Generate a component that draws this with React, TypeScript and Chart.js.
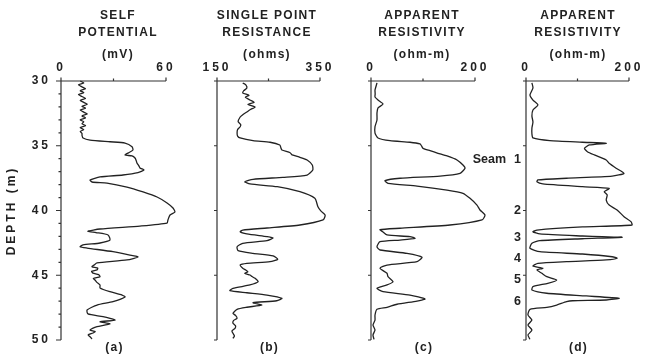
import React, { useEffect, useRef } from 'react';
import { Chart, registerables } from 'chart.js';
Chart.register(...registerables);

const FONT = '"Liberation Sans", Arial, Helvetica, sans-serif';
const INK = '#222';

// ---- data -------------------------------------------------------------
// (a) Self potential (mV)
const spDepth = [30.0,30.15,30.3,30.45,30.6,30.75,30.9,31.05,31.2,31.35,31.5,31.65,31.8,31.95,32.1,32.25,32.4,32.55,32.7,32.85,33.0,33.15,33.3,33.45,33.6,33.75,33.9,34.05,34.2,34.4,34.56,34.69,34.79,35.07,35.33,35.55,35.71,35.79,35.95,36.15,36.33,36.55,36.72,36.87,37.08,37.26,37.41,37.64,37.8,37.88,38.19,38.57,38.96,39.42,39.81,40.12,40.35,40.73,40.97,41.2,41.43,41.6,41.7,41.89,42.28,42.51,42.66,42.8,42.9,43.18,43.44,43.59,43.82,44.05,44.2,44.34,44.45,44.59,44.7,44.83,44.95,45.11,45.25,45.37,45.55,45.75,45.98,46.27,46.53,46.68,47.04,47.3,47.68,47.99,48.2,48.46,48.59,48.76,48.97,49.1,49.23,49.35,49.46,49.6,49.75,49.92];
const spValue = [11,13,10,12,14,11,13,10,12,14,11,13,15,12,14,11,13,15,12,14,11,13,12,14,11,13,11,12,12,12.6,16.6,28,36.6,40.6,41.1,38.5,36.6,40.6,42.3,43,43.4,44.5,45.1,47.4,44,35.4,22.3,16.6,17.7,26.3,37.7,46.9,54.9,60.6,64,65.1,62.3,61.1,60.6,45.1,22.3,15.4,20,26.9,28,22.3,12.6,10.9,14.9,29.7,39.4,44,37.7,20.6,19,17.7,21,20.6,17.5,18.3,21.5,22.3,18.5,19.4,20.5,22.3,22.3,28,34.9,36.6,29.7,20.6,14.9,15.4,24,30.9,22.3,28,20.6,18,16.6,19.5,18.3,15.5,16.6,17.7];

// (b) Single point resistance (ohms)
const sprDepth = [30.15,30.3,30.54,30.75,30.93,31.1,31.25,31.47,31.65,31.8,32.01,32.2,32.39,32.6,32.78,33.14,33.35,33.53,33.75,34.02,34.25,34.4,34.61,34.73,34.94,35.15,35.33,35.54,35.71,35.89,36.1,36.49,36.87,37.26,37.44,37.59,37.78,37.95,38.16,38.55,39.06,39.71,40.05,40.35,40.73,41.12,41.35,41.51,41.64,41.81,42.02,42.12,42.33,42.53,42.8,43.1,43.31,43.51,43.77,43.95,44.08,44.21,44.46,44.6,44.73,44.85,44.98,45.1,45.24,45.5,45.75,46.01,46.19,46.35,46.53,46.78,46.97,47.12,47.3,47.47,47.63,47.94,48.1,48.32,48.5,48.71,48.9,49.1,49.3,49.48,49.7,49.87];
const sprValue = [200,206,208,202,200,212,205,214,222,210,224,215,208,200,195,191,196,195,190,189,190,195,220,253,272,274,276,292,296,311,325,335,336,325,278,220,204,214,267,311,340,346,352,360,356,311,247,200,195,208,247,259,247,200,189,191,220,259,268,253,208,195,200,206,210,204,214,218,224,230,214,181,175,208,247,276,266,220,237,208,189,181,186,189,182,181,186,185,179,181,184,181];

// (c) Apparent resistivity (ohm-m)
const arcDepth = [30.15,30.5,30.7,31.0,31.24,31.47,31.78,32.08,32.47,33.01,33.53,34.02,34.4,34.61,34.73,34.86,35.0,35.2,35.38,35.58,35.79,36.1,36.49,36.74,37.13,37.34,37.51,37.7,37.9,38.11,38.42,38.67,39.06,39.58,39.96,40.35,40.73,41.12,41.37,41.48,41.66,41.89,42.02,42.15,42.28,42.41,42.8,43.05,43.31,43.61,43.95,44.21,44.46,44.85,45.11,45.5,45.75,46.01,46.27,46.53,46.83,46.99,47.24,47.48,47.63,48.07,48.46,48.84,49.23,49.61,49.95];
const arcValue = [11.5,9,7.7,8,7.7,13.5,23.1,13.5,11.5,11.5,7.7,7.7,13.5,36.5,75,94.2,97,100,113.5,128.8,146.2,165.4,176.9,180.8,171.2,132.7,55.8,26.9,32.7,88.5,146.2,176.9,190.4,203.8,209.6,219.2,213.5,151.9,55.8,17.3,23.1,30.8,75,84.6,55.8,17.3,11.5,17.3,69.2,98.1,88.5,30.8,17.3,30.8,32.7,42.3,30.8,11.5,23.1,75,103.8,88.5,50,30.8,11.5,7.7,7.7,3.8,7.7,3.8,5.8];

// (d) Apparent resistivity (ohm-m), second array
const ardDepth = [30.15,30.54,31.08,31.47,31.85,32.24,32.7,33.17,33.63,34.09,34.4,34.61,34.73,34.81,34.94,35.2,35.46,35.71,36.1,36.36,36.74,37.13,37.34,37.51,37.64,37.78,37.95,38.16,38.29,38.55,38.8,39.19,39.58,39.96,40.48,40.86,41.12,41.27,41.51,41.64,41.81,41.97,42.02,42.07,42.18,42.33,42.53,42.92,43.18,43.36,43.57,43.69,43.82,43.95,44.08,44.29,44.46,44.59,44.85,45.11,45.37,45.62,45.88,46.14,46.39,46.6,46.78,46.91,46.97,47.04,47.3,47.48,47.63,48.07,48.46,48.84,49.23,49.61,49.95];
const ardValue = [11.5,13.5,7.7,13.5,23.1,13.5,11.5,13.5,11.5,11.5,13.5,46.2,109.6,155.8,123.1,113.5,119.2,132.7,155.8,161.5,175,190.4,167.3,78.8,23.1,21.2,32.7,109.6,161.5,151.9,157.7,155.8,161.5,176.9,190.4,203.8,205.8,109.6,21.2,13.5,26.9,109.6,148.1,186.5,109.6,26.9,11.5,7.7,26.9,109.6,167.3,176.9,155.8,78.8,23.1,13.5,32.7,21.2,30.8,40.4,59.6,42.3,13.5,11.5,40.4,117.3,180.8,155.8,90.4,78.8,59.6,40.4,7.7,3.8,11.5,3.8,11.5,3.8,7.7];

// axis ticks / labels
const depthTicksMajor = [30, 35, 40, 45, 50];
const depthTicksMinor = [31,32,33,34,36,37,38,39,41,42,43,44,46,47,48,49];
const seamLabels = ['1', '2', '3', '4', '5', '6'];
const seamDepths = [36.1, 40.0, 42.05, 43.7, 45.3, 47.0];

const spTitle = ['SELF', 'POTENTIAL', '(mV)'];
const sprTitle = ['SINGLE POINT', 'RESISTANCE', '(ohms)'];
const arTitle = ['APPARENT', 'RESISTIVITY', '(ohm-m)'];

// ---- panel layout -------------------------------------------------------
type PanelCfg = {
  depth: number[]; values: number[]; title: string[]; label: string;
  xMin: number; xMax: number; plotLeft: number; plotRight: number; titleX: number;
  depthAxis: boolean; seams: boolean;
};

const panels: PanelCfg[] = [
  { depth: spDepth, values: spValue, title: spTitle, label: '(a)', xMin: 0, xMax: 60, plotLeft: 61, plotRight: 166, titleX: 118, depthAxis: true, seams: false },
  { depth: sprDepth, values: sprValue, title: sprTitle, label: '(b)', xMin: 150, xMax: 350, plotLeft: 217, plotRight: 320, titleX: 267, depthAxis: false, seams: false },
  { depth: arcDepth, values: arcValue, title: arTitle, label: '(c)', xMin: 0, xMax: 200, plotLeft: 371, plotRight: 475, titleX: 422, depthAxis: false, seams: false },
  { depth: ardDepth, values: ardValue, title: arTitle, label: '(d)', xMin: 0, xMax: 200, plotLeft: 526, plotRight: 630, titleX: 578, depthAxis: false, seams: true },
];

const W = 645, H = 358, PLOT_TOP = 81, PLOT_BOTTOM = 340, XAXIS_H = 20;
const TITLE_Y = [16, 33, 55];

function Panel({ cfg }: { cfg: PanelCfg }) {
  const ref = useRef<HTMLCanvasElement>(null);
  useEffect(() => {
    const frame = {
      id: 'frame' + cfg.label.replace(/\W/g, ''),
      beforeDraw(chart: any) { chart.ctx.letterSpacing = '3px'; },
      afterDraw(chart: any) {
        const ctx = chart.ctx as CanvasRenderingContext2D;
        const xs = chart.scales.x, ys = chart.scales.y;
        const left = xs.getPixelForValue(cfg.xMin), right = xs.getPixelForValue(cfg.xMax);
        const top = ys.getPixelForValue(30), bottom = ys.getPixelForValue(50);
        ctx.save();
        ctx.strokeStyle = '#333';
        ctx.lineWidth = 1.2;
        ctx.beginPath();
        ctx.moveTo(left, bottom); ctx.lineTo(left, top); ctx.lineTo(right, top);
        const mid = (cfg.xMin + cfg.xMax) / 2;
        [cfg.xMin, mid, cfg.xMax].forEach((v, i) => {
          const px = xs.getPixelForValue(v);
          ctx.moveTo(px, top); ctx.lineTo(px, top - (i === 1 ? 2.5 : 3.5));
        });
        const majorLen = cfg.depthAxis ? 5 : 3;
        depthTicksMajor.forEach(d => {
          const py = ys.getPixelForValue(d);
          ctx.moveTo(left, py); ctx.lineTo(left - majorLen, py);
        });
        if (cfg.depthAxis) {
          depthTicksMinor.forEach(d => {
            const py = ys.getPixelForValue(d);
            ctx.moveTo(left, py); ctx.lineTo(left - 2.5, py);
          });
        }
        ctx.stroke();
        ctx.fillStyle = INK;
        ctx.textAlign = 'center';
        ctx.textBaseline = 'middle';
        ctx.font = `bold 12px ${FONT}`;
        (ctx as any).letterSpacing = '1.3px';
        cfg.title.forEach((t, i) => ctx.fillText(t, cfg.titleX, TITLE_Y[i]));
        ctx.font = `bold 12px ${FONT}`;
        ctx.fillText(cfg.label, (left + right) / 2 + 1, 348);
        if (cfg.seams) {
          (ctx as any).letterSpacing = '0px';
          ctx.font = `bold 12.5px ${FONT}`;
          ctx.textAlign = 'right';
          seamLabels.forEach((s, i) => {
            ctx.fillText(s, left - 5, ys.getPixelForValue(seamDepths[i]));
          });
          ctx.fillText('Seam', left - 20, ys.getPixelForValue(seamDepths[0]));
        }
        ctx.restore();
      },
    };
    const chart = new Chart(ref.current!, {
      type: 'scatter',
      data: {
        datasets: [{
          data: cfg.depth.map((d, i) => ({ x: cfg.values[i], y: d })),
          showLine: true,
          borderColor: INK,
          borderWidth: 1.3,
          pointRadius: 0,
          tension: 0.2,
          clip: false as any,
          fill: false,
        }],
      },
      options: {
        animation: false,
        responsive: false,
        events: [],
        layout: {
          padding: {
            left: cfg.depthAxis ? 0 : cfg.plotLeft,
            right: W - cfg.plotRight,
            top: PLOT_TOP - XAXIS_H,
            bottom: H - PLOT_BOTTOM,
          },
        },
        plugins: { legend: { display: false }, tooltip: { enabled: false }, title: { display: false } },
        scales: {
          x: {
            type: 'linear', position: 'top', min: cfg.xMin, max: cfg.xMax,
            grid: { display: false, drawTicks: false }, border: { display: false },
            ticks: { stepSize: cfg.xMax - cfg.xMin, padding: 6, color: INK, font: { family: FONT, size: 12, weight: 'bold' }, maxRotation: 0 },
            afterFit: (s: any) => { s.height = XAXIS_H; },
          },
          y: {
            type: 'linear', reverse: true, min: 30, max: 50, display: cfg.depthAxis,
            grid: { display: false, drawTicks: false }, border: { display: false },
            ticks: { stepSize: 5, padding: 10, color: INK, font: { family: FONT, size: 12, weight: 'bold' } },
            title: { display: true, text: 'DEPTH (m)', color: INK, font: { family: FONT, size: 12, weight: 'bold' }, padding: { top: 4, bottom: 0 } },
            afterFit: (s: any) => { if (cfg.depthAxis) s.width = cfg.plotLeft; else s.width = 0; },
          },
        },
      } as any,
      plugins: [frame],
    });
    return () => chart.destroy();
  }, []);
  return <canvas ref={ref} width={W} height={H} style={{ position: 'absolute', left: 0, top: 0, width: W, height: H }} />;
}

export default function App() {
  return (
    <div style={{ position: 'fixed', left: 0, top: 0, width: W, height: H, background: '#fff' }}>
      {panels.map(p => <Panel key={p.label} cfg={p} />)}
    </div>
  );
}
